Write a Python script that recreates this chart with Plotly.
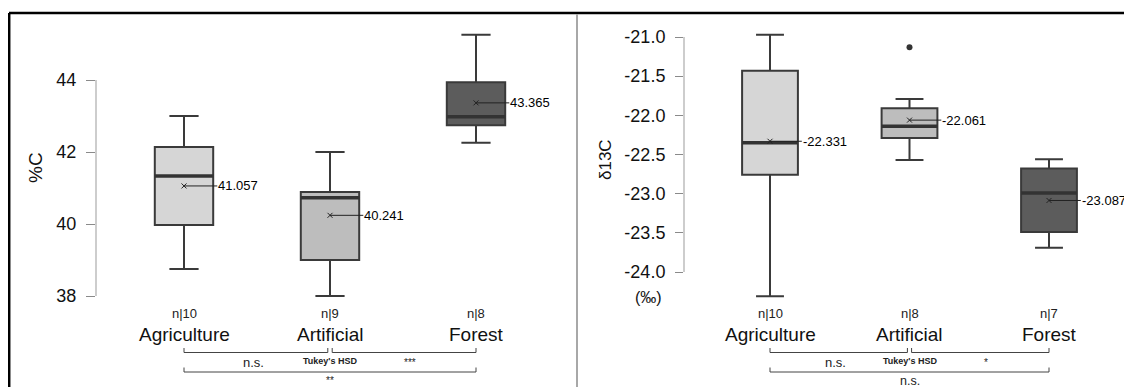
import plotly.graph_objects as go

# Browser body has an 8px margin; figure is sized to fit the remaining window
OFF = 8
W, H = 1132 - OFF, 387 - OFF

categories = ["Agriculture", "Artificial", "Forest"]
box_colors = ["#d6d6d6", "#bdbdbd", "#5c5c5c"]

# Left panel: %C
c_n = [10, 9, 8]
c_lower = [38.75, 38.0, 42.26]
c_q1 = [39.97, 39.0, 42.74]
c_median = [41.33, 40.73, 42.98]
c_q3 = [42.14, 40.89, 43.94]
c_upper = [43.0, 42.0, 45.26]
c_mean = [41.057, 40.241, 43.365]
c_ticks = [38, 40, 42, 44]
c_sig = ["n.s.", "***", "**"]

# Right panel: d13C
d_n = [10, 8, 7]
d_lower = [-24.31, -22.57, -23.69]
d_q1 = [-22.76, -22.29, -23.49]
d_median = [-22.35, -22.14, -22.99]
d_q3 = [-21.43, -21.91, -22.68]
d_upper = [-20.97, -21.79, -22.56]
d_mean = [-22.331, -22.061, -23.087]
d_outlier_x = [1]
d_outlier_y = [-21.13]
d_ticks = [-24.0, -23.5, -23.0, -22.5, -22.0, -21.5, -21.0]
d_sig = ["n.s.", "*", "n.s."]

FONT = "Liberation Sans, Arial, sans-serif"
BOXW = 0.4

def py(p):  # window pixel y (from top) -> paper
    return 1 - (p - OFF) / H

def px(p):  # window pixel x -> paper
    return (p - OFF) / W

fig = go.Figure()

def ann(**kw):
    kw.setdefault("showarrow", False)
    kw.setdefault("xanchor", "center")
    kw.setdefault("yanchor", "middle")
    fig.add_annotation(**kw)

panels = [
    dict(xa="x", ya="y", n=c_n, lo=c_lower, q1=c_q1, med=c_median, q3=c_q3, up=c_upper,
         mean=c_mean, fmt="{:.3f}", sig=c_sig),
    dict(xa="x2", ya="y2", n=d_n, lo=d_lower, q1=d_q1, med=d_median, q3=d_q3, up=d_upper,
         mean=d_mean, fmt="{:.3f}", sig=d_sig),
]

for P in panels:
    for i, cat in enumerate(categories):
        fig.add_trace(go.Box(
            x=[i], q1=[P["q1"][i]], median=[P["med"][i]], q3=[P["q3"][i]],
            lowerfence=[P["lo"][i]], upperfence=[P["up"][i]],
            width=BOXW, whiskerwidth=0.5, fillcolor=box_colors[i],
            line=dict(color="#3a3a3a", width=2), boxpoints=False,
            xaxis=P["xa"], yaxis=P["ya"], showlegend=False, hoverinfo="skip"))
        # thick median
        fig.add_trace(go.Scatter(
            x=[i - BOXW / 2, i + BOXW / 2], y=[P["med"][i]] * 2, mode="lines",
            line=dict(color="#333333", width=3.5), xaxis=P["xa"], yaxis=P["ya"],
            showlegend=False, hoverinfo="skip"))
        # mean marker + leader line
        fig.add_trace(go.Scatter(
            x=[i, i + BOXW / 2 + 0.028], y=[P["mean"][i]] * 2, mode="lines",
            line=dict(color="#222222", width=1), xaxis=P["xa"], yaxis=P["ya"],
            showlegend=False, hoverinfo="skip"))
        fig.add_trace(go.Scatter(
            x=[i], y=[P["mean"][i]], mode="markers",
            marker=dict(symbol="x-thin", size=5, line=dict(color="#222222", width=1)),
            xaxis=P["xa"], yaxis=P["ya"], showlegend=False, hoverinfo="skip"))
        ann(x=i + BOXW / 2 + 0.028, y=P["mean"][i], xref=P["xa"], yref=P["ya"],
            text=P["fmt"].format(P["mean"][i]), xanchor="left", xshift=-1,
            font=dict(family=FONT, size=13, color="#000000"))
        # n label
        ann(x=i, y=py(313), xref=P["xa"], yref="paper", text="n|" + str(P["n"][i]),
            font=dict(family=FONT, size=13, color="#222222"))
        # category label
        ann(x=i, y=py(334), xref=P["xa"], yref="paper", text=cat,
            font=dict(family=FONT, size=19, color="#111111"))

    xa = P["xa"]
    # brackets
    def bracket(x0, x1, yb, ytop):
        fig.add_shape(type="path",
                      path=f"M {x0},{ytop} L {x0},{yb} L {x1},{yb} L {x1},{ytop}",
                      xref=xa, yref="paper", line=dict(color="#444444", width=1))
    bracket(0, 0.985, py(352.5), py(348))
    bracket(1.015, 2, py(352.5), py(348))
    bracket(0, 2, py(372), py(367.5))
    ann(x=0.5, y=py(362), xref=xa, yref="paper", text=P["sig"][0], xshift=-4,
        font=dict(family=FONT, size=13, color="#222222"))
    ann(x=1, y=py(361), xref=xa, yref="paper", text="<b>Tukey's HSD</b>",
        font=dict(family=FONT, size=9, color="#222222"))
    ann(x=1.55, y=py(362), xref=xa, yref="paper", text=P["sig"][1],
        font=dict(family=FONT, size=10 if "*" in P["sig"][1] else 13, color="#222222"))
    ann(x=1, y=py(380.5), xref=xa, yref="paper", text=P["sig"][2],
        font=dict(family=FONT, size=10 if "*" in P["sig"][2] else 12.5, color="#222222"))

# outlier
fig.add_trace(go.Scatter(x=d_outlier_x, y=d_outlier_y, mode="markers",
                         marker=dict(color="#333333", size=6), xaxis="x2", yaxis="y2",
                         showlegend=False, hoverinfo="skip"))

# axis lines spanning tick range
fig.add_shape(type="line", xref="x domain", yref="y", x0=0, x1=0, y0=min(c_ticks),
              y1=max(c_ticks), line=dict(color="#bdbdbd", width=1.5))
fig.add_shape(type="line", xref="x2 domain", yref="y2", x0=0, x1=0, y0=min(d_ticks),
              y1=max(d_ticks), line=dict(color="#bdbdbd", width=1.5))

# axis titles
ann(x=px(36), y=py(168), xref="paper", yref="paper", text="%C", textangle=-90,
    font=dict(family=FONT, size=19, color="#111111"))
ann(x=px(605), y=py(160), xref="paper", yref="paper", text="δ13C", textangle=-90,
    font=dict(family=FONT, size=17, color="#111111"))
ann(x=px(648), y=py(297), xref="paper", yref="paper", text="(‰)",
    font=dict(family=FONT, size=16, color="#111111"))

# frame
fig.add_shape(type="line", xref="paper", yref="paper", x0=px(9), x1=1, y0=py(13),
              y1=py(13), line=dict(color="black", width=2.5))
fig.add_shape(type="line", xref="paper", yref="paper", x0=px(9.2), x1=px(9.2), y0=py(13),
              y1=0, line=dict(color="black", width=2.5))
fig.add_shape(type="line", xref="paper", yref="paper", x0=px(577), x1=px(577),
              y0=py(14), y1=0, line=dict(color="#a8a8a8", width=2))

ytop, ybot = 20, 305
left_px_per = 36.0
right_px_per = 78.33

fig.update_layout(
    width=W, height=H, margin=dict(l=0, r=0, t=0, b=0),
    paper_bgcolor="white", plot_bgcolor="white",
    xaxis=dict(domain=[px(96), px(577)], range=[-88 / 146, 2 + 101 / 146],
               visible=False, fixedrange=True),
    xaxis2=dict(domain=[px(684), 1.0], range=[-86 / 139.5, 2 + (1132 - 1049) / 139.5],
                visible=False, fixedrange=True),
    yaxis=dict(domain=[py(ybot), py(ytop)], anchor="x",
               range=[38 - (ybot - 296) / left_px_per, 44 + (80 - ytop) / left_px_per],
               tickvals=c_ticks, ticktext=[str(v) for v in c_ticks],
               ticks="outside", ticklen=9, tickcolor="#8a8a8a", tickwidth=1,
               showline=False, showgrid=False, zeroline=False,
               ticklabelstandoff=6,
               tickfont=dict(family=FONT, size=18, color="#111111")),
    yaxis2=dict(domain=[py(ybot), py(ytop)], anchor="x2",
                range=[-24 - (ybot - 272) / right_px_per, -21 + (37 - ytop) / right_px_per],
                tickvals=d_ticks, ticktext=[f"{v:.1f}" for v in d_ticks],
                ticks="outside", ticklen=8, tickcolor="#8a8a8a", tickwidth=1,
                showline=False, showgrid=False, zeroline=False,
                ticklabelstandoff=6,
                tickfont=dict(family=FONT, size=18, color="#111111")),
)

fig.write_html("out.html")
